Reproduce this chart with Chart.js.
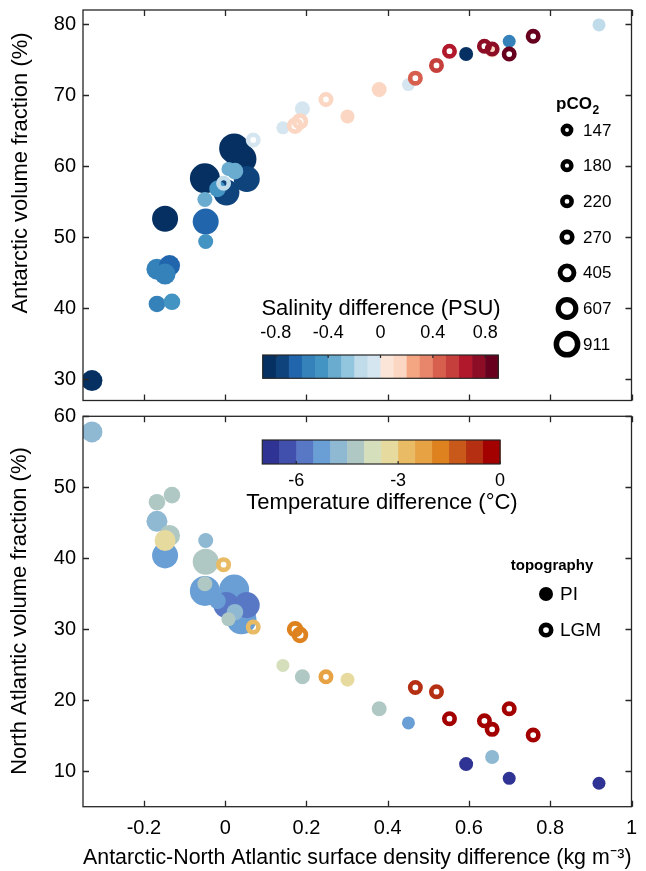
<!DOCTYPE html>
<html>
<head>
<meta charset="utf-8">
<script src="https://cdn.jsdelivr.net/npm/chart.js@4.4.1/dist/chart.umd.min.js"></script>
<style>
    body { margin: 0; background: #fff; }
    #wrap { position: relative; width: 646px; height: 871px; }
    #top-box { position: absolute; left: 0; top: 0; }
    #bottom-box { position: absolute; left: 0; top: 405px; }
</style>
</head>
<body>
<div id="wrap">
    <div id="top-box"><canvas id="antarctic-chart" width="646" height="410"></canvas></div>
    <div id="bottom-box"><canvas id="atlantic-chart" width="646" height="466"></canvas></div>
</div>
<script>
// ============================== DATA ==============================
// one entry per model run (same x in both panels)
const densityDiff = [
    -0.328, -0.168, -0.131, -0.168, -0.137, -0.148, -0.148, -0.048, -0.048, -0.050,
    -0.050, -0.004, -0.019, 0.003, 0.008, 0.022, 0.024, 0.040, 0.053, 0.069,
    0.142, 0.172, 0.184, 0.190, 0.248, 0.301, 0.379, 0.451, 0.468, 0.520,
    0.552, 0.593, 0.638, 0.657, 0.657, 0.699, 0.699, 0.758, 0.920
];
const antarcticFrac = [
    29.8, 40.6, 40.9, 45.5, 46.0, 44.8, 52.6, 52.2, 49.4, 55.3,
    58.3, 57.6, 56.8, 56.3, 59.6, 62.5, 59.3, 61.0, 58.2, 63.7,
    65.4, 65.7, 66.3, 68.1, 69.4, 67.0, 70.8, 71.5, 72.4, 74.2,
    76.2, 75.8, 76.9, 76.5, 76.3, 77.6, 75.8, 78.3, 79.9
];
const northAtlanticFrac = [
    57.8, 47.9, 48.9, 45.2, 43.2, 42.5, 40.4, 39.5, 42.5, 36.4,
    35.4, 39.1, 34.0, 33.4, 31.4, 35.6, 32.4, 31.4, 33.4, 30.3,
    24.9, 30.0, 29.2, 23.3, 23.3, 22.9, 18.8, 16.8, 21.8, 21.2,
    17.4, 11.0, 17.1, 15.9, 12.0, 9.0, 18.8, 15.1, 8.3
];
const salinityDiff = [
    -0.85, -0.55, -0.45, -0.55, -0.65, -0.55, -0.85, -0.65, -0.45, -0.35,
    -0.85, -0.15, -0.45, -0.75, -0.35, -0.85, -0.35, -0.85, -0.75, -0.05,
    -0.05, 0.15, 0.15, -0.05, 0.15, 0.15, 0.15, -0.05, 0.45, 0.55,
    0.65, -0.85, 0.75, 0.75, 0.15, -0.55, 0.85, 0.85, -0.15
];
const temperatureDiff = [
    -4.8, -4.3, -4.3, -4.8, -4.3, -3.3, -5.3, -4.3, -4.8, -4.3,
    -5.3, -2.8, -5.3, -5.8, -4.3, -5.3, -4.8, -5.3, -5.8, -2.8,
    -3.8, -1.8, -1.8, -4.3, -2.3, -3.3, -4.3, -5.3, -0.8, -0.8,
    -0.3, -6.8, -0.3, -0.3, -4.8, -6.8, -0.3, -0.3, -6.8
];
const pco2 = [
    405, 270, 270, 405, 405, 405, 607, 607, 220, 220,
    911, 220, 270, 607, 180, 911, 270, 911, 607, 220,
    147, 270, 270, 220, 220, 180, 220, 147, 220, 220,
    220, 180, 220, 220, 180, 147, 220, 220, 147
];
const topography = [
    "PI", "PI", "PI", "PI", "PI", "PI", "PI", "PI", "PI", "PI",
    "PI", "LGM", "PI", "PI", "PI", "PI", "PI", "PI", "PI", "LGM",
    "PI", "LGM", "LGM", "PI", "LGM", "PI", "PI", "PI", "LGM", "LGM",
    "LGM", "PI", "LGM", "LGM", "PI", "PI", "LGM", "LGM", "PI"
];

// ticks and legend entries
const xTicks = [-0.2, 0, 0.2, 0.4, 0.6, 0.8, 1];
const antarcticTicks = [30, 40, 50, 60, 70, 80];
const atlanticTicks = [10, 20, 30, 40, 50, 60];
const pco2Levels = [147, 180, 220, 270, 405, 607, 911];
const salinityTicks = [-0.8, -0.4, 0, 0.4, 0.8];
const temperatureTicks = [-6, -3, 0];

// ============================== STYLE ==============================
const FONT = "'Liberation Sans', Arial, Helvetica, sans-serif";
const AXIS_COLOR = "#262626";

// 18 steps, -0.9 .. 0.9 PSU
const salinityColors = [
    "#053061", "#0f437b", "#2166ac", "#3581ba", "#4393c3", "#6aacd0",
    "#92c5de", "#c0dbea", "#d6e6f0", "#fbe5d8", "#fbd6c2", "#f4a582",
    "#e7866a", "#d6604d", "#c5403c", "#b2182b", "#8c0d25", "#67001f"
];
// 14 steps, -7 .. 0 degC
const temperatureColors = [
    "#2f3393", "#4150ad", "#5877c4", "#6a9fd6", "#8fb8d3", "#b0c8c4", "#d6dfbc",
    "#e7da9f", "#e8bb64", "#e6a243", "#de8220", "#c8591a", "#b53012", "#a30000"
];

// outer marker radius for each pCO2 level (plot and legend)
const markerRadius = { 147: 6.5, 180: 7, 220: 7.5, 270: 8.3, 405: 10.5, 607: 13, 911: 15 };
const legendRadius = { 147: 6.4, 180: 6.6, 220: 6.9, 270: 7.6, 405: 9.4, 607: 11.4, 911: 13.4 };

function ringWidth(r) {
    return 3.5 + 0.15 * r;
}

function salinityColor(v) {
    let k = Math.floor((v + 0.9) / 0.1 + 1e-6);
    k = Math.max(0, Math.min(salinityColors.length - 1, k));
    return salinityColors[k];
}

function temperatureColor(v) {
    let k = Math.floor((v + 7) / 0.5 + 1e-6);
    k = Math.max(0, Math.min(temperatureColors.length - 1, k));
    return temperatureColors[k];
}

// filled (PI) runs first, biggest at the bottom; LGM rings on top
const drawOrder = densityDiff.map((_, i) => i).sort((a, b) => {
    const ra = topography[a] === "LGM" ? 1 : 0;
    const rb = topography[b] === "LGM" ? 1 : 0;
    if (ra !== rb) return ra - rb;
    return pco2[b] - pco2[a];
});

function buildDataset(yValues, colorOf) {
    const points = [], radius = [], border = [], fill = [], stroke = [];
    drawOrder.forEach(i => {
        const r = markerRadius[pco2[i]];
        const c = colorOf(i);
        points.push({ x: densityDiff[i], y: yValues[i] });
        if (topography[i] === "LGM") {
            const w = ringWidth(r);
            radius.push(r - w / 2);
            border.push(w);
            fill.push("rgba(0,0,0,0)");
        } else {
            radius.push(r);
            border.push(0);
            fill.push(c);
        }
        stroke.push(c);
    });
    return {
        data: points,
        showLine: false,
        pointStyle: "circle",
        pointRadius: radius,
        pointHoverRadius: radius,
        pointBorderWidth: border,
        pointBackgroundColor: fill,
        pointBorderColor: stroke
    };
}

// ============================== PLUGINS ==============================
// box round the plot with inward ticks on all four sides + y title
const panelFrame = {
    id: "panelFrame",
    afterDatasetsDraw(chart, args, opts) {
        const { ctx, chartArea: a, scales: { x, y } } = chart;
        ctx.save();
        ctx.strokeStyle = AXIS_COLOR;
        ctx.lineWidth = 1.3;
        ctx.strokeRect(a.left, a.top, a.right - a.left, a.bottom - a.top);
        ctx.beginPath();
        xTicks.forEach(v => {
            const px = Math.round(x.getPixelForValue(v)) + 0.5;
            ctx.moveTo(px, a.bottom); ctx.lineTo(px, a.bottom - 6);
            ctx.moveTo(px, a.top); ctx.lineTo(px, a.top + 6);
        });
        opts.yTicks.forEach(v => {
            const py = Math.round(y.getPixelForValue(v)) + 0.5;
            ctx.moveTo(a.left, py); ctx.lineTo(a.left + 6, py);
            ctx.moveTo(a.right, py); ctx.lineTo(a.right - 6, py);
        });
        ctx.stroke();

        // y axis title
        ctx.translate(opts.titleX, opts.titleY);
        ctx.rotate(-Math.PI / 2);
        ctx.fillStyle = "#000";
        ctx.font = `22px ${FONT}`;
        ctx.textAlign = "center";
        ctx.textBaseline = "middle";
        ctx.fillText(opts.title, 0, 0);
        ctx.restore();
    }
};

function drawColorbar(ctx, cb) {
    const n = cb.colors.length;
    const w = (cb.right - cb.left) / n;
    const toPx = v => cb.left + (v - cb.min) / (cb.max - cb.min) * (cb.right - cb.left);
    cb.colors.forEach((c, k) => {
        ctx.fillStyle = c;
        ctx.fillRect(cb.left + k * w, cb.top, w + 0.6, cb.bottom - cb.top);
    });
    ctx.strokeStyle = AXIS_COLOR;
    ctx.lineWidth = 1.2;
    ctx.strokeRect(cb.left, cb.top, cb.right - cb.left, cb.bottom - cb.top);
    ctx.beginPath();
    cb.ticks.forEach(v => {
        const px = toPx(v);
        if (cb.tickSide === "top") {
            ctx.moveTo(px, cb.top); ctx.lineTo(px, cb.top + 3);
        } else {
            ctx.moveTo(px, cb.bottom); ctx.lineTo(px, cb.bottom - 3);
        }
    });
    ctx.stroke();
    ctx.fillStyle = "#000";
    ctx.textAlign = "center";
    ctx.textBaseline = "middle";
    ctx.font = `18px ${FONT}`;
    cb.ticks.forEach(v => ctx.fillText(String(v), toPx(v), cb.labelY));
    ctx.font = `22px ${FONT}`;
    ctx.fillText(cb.title, cb.titleX, cb.titleY);
}

// salinity colour bar + pCO2 size legend (top panel)
const topDecor = {
    id: "topDecor",
    afterDraw(chart) {
        const ctx = chart.ctx;
        ctx.save();
        drawColorbar(ctx, {
            colors: salinityColors, min: -0.9, max: 0.9, ticks: salinityTicks,
            left: 262.7, right: 498.3, top: 355, bottom: 378.3, tickSide: "top",
            labelY: 333, title: "Salinity difference (PSU)", titleX: 381, titleY: 309
        });

        // pCO2 header
        ctx.fillStyle = "#000";
        ctx.textAlign = "left";
        ctx.textBaseline = "middle";
        ctx.font = `bold 17px ${FONT}`;
        ctx.fillText("pCO", 556, 104);
        const wHead = ctx.measureText("pCO").width;
        ctx.font = `bold 12px ${FONT}`;
        ctx.fillText("2", 556 + wHead + 0.5, 111);

        pco2Levels.forEach((level, k) => {
            const cy = 130 + k * 35.7;
            const r = legendRadius[level];
            const w = ringWidth(r);
            ctx.beginPath();
            ctx.arc(567, cy, r - w / 2, 0, Math.PI * 2);
            ctx.strokeStyle = "#000";
            ctx.lineWidth = w;
            ctx.stroke();
            ctx.font = `17px ${FONT}`;
            ctx.fillText(String(level), 583, cy + 1);
        });
        ctx.restore();
    }
};

// temperature colour bar + topography legend (bottom panel)
const bottomDecor = {
    id: "bottomDecor",
    afterDraw(chart) {
        const ctx = chart.ctx;
        ctx.save();
        drawColorbar(ctx, {
            colors: temperatureColors, min: -7, max: 0, ticks: temperatureTicks,
            left: 262.3, right: 500, top: 35, bottom: 59, tickSide: "bottom",
            labelY: 76, title: "Temperature difference (\u00b0C)", titleX: 382, titleY: 98
        });

        ctx.fillStyle = "#000";
        ctx.textAlign = "center";
        ctx.textBaseline = "middle";
        ctx.font = `bold 15px ${FONT}`;
        ctx.fillText("topography", 552, 161);

        // PI: filled
        ctx.beginPath();
        ctx.arc(546, 189, 7, 0, Math.PI * 2);
        ctx.fill();
        // LGM: ring
        const w = ringWidth(7.5);
        ctx.beginPath();
        ctx.arc(546, 225, 7.5 - w / 2, 0, Math.PI * 2);
        ctx.strokeStyle = "#000";
        ctx.lineWidth = w;
        ctx.stroke();

        ctx.textAlign = "left";
        ctx.font = `19px ${FONT}`;
        ctx.fillText("PI", 560, 190);
        ctx.fillText("LGM", 560, 226);
        ctx.restore();
    }
};

// ============================== CHARTS ==============================
Chart.defaults.font.family = FONT;
Chart.defaults.color = "#000";

function noScalePadding(s) {
    s.paddingLeft = 0;
    s.paddingRight = 0;
    s.paddingTop = 0;
    s.paddingBottom = 0;
}

function xScale(showLabels) {
    return {
        type: "linear",
        min: -0.35,
        max: 1.0,
        display: showLabels,
        afterBuildTicks: s => { s.ticks = xTicks.map(v => ({ value: v })); },
        afterFit: s => {
            if (showLabels) s.height = 64.3;
            noScalePadding(s);
        },
        grid: { display: false, drawTicks: false },
        border: { display: false },
        ticks: { font: { size: 20 }, color: "#000", padding: 10, maxRotation: 0, callback: v => String(v) },
        title: {
            display: true,
            text: "Antarctic-North Atlantic surface density difference (kg m\u207b\u00b3)",
            font: { size: 22.5 },
            color: "#000",
            padding: { top: 0, bottom: 0 }
        }
    };
}

function yScale(min, max, ticks) {
    return {
        type: "linear",
        min: min,
        max: max,
        afterBuildTicks: s => { s.ticks = ticks.map(v => ({ value: v })); },
        afterFit: s => {
            s.width = 83;
            noScalePadding(s);
        },
        grid: { display: false, drawTicks: false },
        border: { display: false },
        ticks: { font: { size: 20 }, color: "#000", padding: 7, callback: v => String(v) }
    };
}

function makeChart(canvasId, dataset, yOpts, showX, padding, frameOpts, decor) {
    const ctx = document.getElementById(canvasId).getContext("2d");
    return new Chart(ctx, {
        type: "scatter",
        data: { datasets: [dataset] },
        options: {
            responsive: false,
            animation: false,
            events: [],
            layout: { padding: padding, autoPadding: false },
            plugins: {
                legend: { display: false },
                tooltip: { enabled: false },
                panelFrame: frameOpts
            },
            scales: { x: xScale(showX), y: yOpts }
        },
        plugins: [panelFrame, decor]
    });
}

makeChart(
    "antarctic-chart",
    buildDataset(antarcticFrac, i => salinityColor(salinityDiff[i])),
    yScale(27, 82, antarcticTicks),
    false,
    { top: 10, right: 14.5, bottom: 9.5, left: 0 },
    { yTicks: antarcticTicks, title: "Antarctic volume fraction (%)", titleX: 21, titleY: 173 },
    topDecor
);

makeChart(
    "atlantic-chart",
    buildDataset(northAtlanticFrac, i => temperatureColor(temperatureDiff[i])),
    yScale(5, 60, atlanticTicks),
    true,
    { top: 11.3, right: 14.5, bottom: 0, left: 0 },
    { yTicks: atlanticTicks, title: "North Atlantic volume fraction (%)", titleX: 20, titleY: 206 },
    bottomDecor
);
</script>
</body>
</html>
